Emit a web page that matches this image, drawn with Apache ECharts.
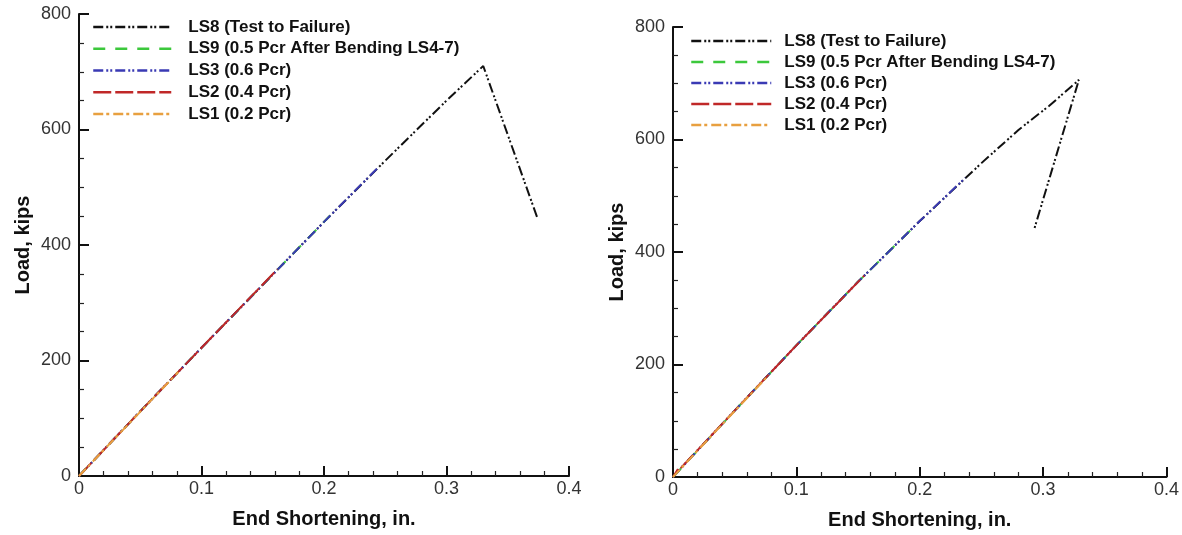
<!DOCTYPE html>
<html>
<head>
<meta charset="utf-8">
<script src="https://cdn.jsdelivr.net/npm/echarts@6/dist/echarts.min.js"></script>
<style>
html,body{margin:0;padding:0;background:#fff;}
#chart{width:1182px;height:535px;}
</style>
</head>
<body>
<div id="chart"></div>
<script>
// ---- data ----
const seriesNames = ['LS8 (Test to Failure)', 'LS9 (0.5 Pcr After Bending LS4-7)', 'LS3 (0.6 Pcr)', 'LS2 (0.4 Pcr)', 'LS1 (0.2 Pcr)'];
const xTicks = [0, 0.1, 0.2, 0.3, 0.4];
const yTicks = [0, 200, 400, 600, 800];

// Left panel
const leftLS8x = [0, 0.05, 0.1, 0.15, 0.2, 0.25, 0.3, 0.33, 0.374];
const leftLS8y = [0, 112, 222, 331, 440, 546, 650, 710, 448];
const leftLS9x = [0, 0.05, 0.1, 0.15, 0.205];
const leftLS9y = [0, 112, 222, 331, 451];
const leftLS3x = [0, 0.05, 0.1, 0.15, 0.2, 0.245];
const leftLS3y = [0, 112, 222, 331, 440, 536];
const leftLS2x = [0, 0.05, 0.1, 0.162];
const leftLS2y = [0, 112, 222, 358];
const leftLS1x = [0, 0.04, 0.081];
const leftLS1y = [0, 89, 180];

// Right panel
const rightLS8x = [0, 0.003, 0.05, 0.1, 0.15, 0.2, 0.25, 0.28, 0.305, 0.329, 0.293];
const rightLS8y = [0, 8, 118, 234, 347, 455, 558, 617, 660, 706, 442];
const rightLS9x = [0, 0.05, 0.1, 0.15, 0.195];
const rightLS9y = [0, 118, 234, 347, 444];
const rightLS3x = [0, 0.05, 0.1, 0.15, 0.2, 0.237];
const rightLS3y = [0, 118, 234, 347, 455, 532];
const rightLS2x = [0, 0.004, 0.002, 0.05, 0.1, 0.155];
const rightLS2y = [0, 14, 6, 118, 234, 358];
const rightLS1x = [0, 0.04, 0.078];
const rightLS1y = [0, 94, 182];

// ---- styles ----
const styles = [
  {color: '#111111', type: [10, 3, 2, 2, 2, 3]},
  {color: '#3cc83c', type: [12, 10]},
  {color: '#3a3ab4', type: [10, 3, 2, 2, 2, 3]},
  {color: '#c02828', type: [18, 4]},
  {color: '#e8a040', type: [10, 3, 3, 4]}
];

function pts(xs, ys) { return xs.map((v, i) => [v, ys[i]]); }

const leftData = [pts(leftLS8x, leftLS8y), pts(leftLS9x, leftLS9y), pts(leftLS3x, leftLS3y), pts(leftLS2x, leftLS2y), pts(leftLS1x, leftLS1y)];
const rightData = [pts(rightLS8x, rightLS8y), pts(rightLS9x, rightLS9y), pts(rightLS3x, rightLS3y), pts(rightLS2x, rightLS2y), pts(rightLS1x, rightLS1y)];

const series = [];
[leftData, rightData].forEach((panel, p) => {
  panel.forEach((d, i) => {
    series.push({
      name: seriesNames[i],
      type: 'line',
      xAxisIndex: p,
      yAxisIndex: p,
      data: d,
      symbol: 'none',
      smooth: false,
      lineStyle: {color: styles[i].color, width: 2, type: styles[i].type},
      itemStyle: {color: styles[i].color},
      z: 2 + i
    });
  });
});

const FONT = '"Liberation Sans", Arial, sans-serif';

function xAxis(gi) {
  return {
    type: 'value', gridIndex: gi, min: 0, max: 0.4, interval: 0.1,
    name: 'End Shortening, in.', nameLocation: 'middle', nameGap: 33,
    nameTextStyle: {fontFamily: FONT, fontWeight: 'bold', fontSize: 20, color: '#111'},
    axisLine: {show: true, onZero: false, lineStyle: {color: '#111', width: 2}},
    axisTick: {show: true, inside: true, length: 10, lineStyle: {color: '#111', width: 2}},
    minorTick: {show: true, splitNumber: 5, length: 5, lineStyle: {color: '#222', width: 1.2}},
    axisLabel: {fontFamily: FONT, fontSize: 18, color: '#333', margin: 4,
      formatter: v => { const t = xTicks.find(k => Math.abs(k - v) < 1e-9); return t === undefined ? '' : String(t); }},
    splitLine: {show: false}
  };
}
function yAxis(gi) {
  return {
    type: 'value', gridIndex: gi, min: 0, max: 800, interval: 200,
    name: 'Load, kips', nameLocation: 'middle', nameGap: 46, nameRotate: 90,
    nameTextStyle: {fontFamily: FONT, fontWeight: 'bold', fontSize: 20, color: '#111'},
    axisLine: {show: true, onZero: false, lineStyle: {color: '#111', width: 2}},
    axisTick: {show: true, inside: true, length: 10, lineStyle: {color: '#111', width: 2}},
    minorTick: {show: true, splitNumber: 4, length: 5, lineStyle: {color: '#222', width: 1.2}},
    axisLabel: {fontFamily: FONT, fontSize: 18, color: '#333', margin: 8,
      formatter: v => { const t = yTicks.find(k => Math.abs(k - v) < 1e-9); return t === undefined ? '' : String(t); }},
    splitLine: {show: false}
  };
}

function legend(left, top, gap, width, pad) {
  return {
    show: true, orient: 'vertical', left: left, top: top,
    itemWidth: width, itemHeight: 14, itemGap: gap,
    data: seriesNames, selectedMode: false,
    itemStyle: {opacity: 0},
    lineStyle: {width: 2.5},
    textStyle: {fontFamily: FONT, fontWeight: 'bold', fontSize: 17, color: '#111', lineHeight: 17, padding: [0, 0, 0, pad]},
    padding: 0
  };
}

const option = {
  animation: false,
  backgroundColor: '#ffffff',
  grid: [
    {left: 79, top: 14, width: 490, height: 462, containLabel: false},
    {left: 673, top: 27, width: 494, height: 450, containLabel: false}
  ],
  xAxis: [xAxis(0), xAxis(1)],
  yAxis: [yAxis(0), yAxis(1)],
  legend: [legend(92, 18.5, 4.75, 78, 12), legend(690, 32.5, 4, 80, 8)],
  series: series
};

const chart = echarts.init(document.getElementById('chart'), null, {renderer: 'canvas'});
chart.setOption(option);
</script>
</body>
</html>
